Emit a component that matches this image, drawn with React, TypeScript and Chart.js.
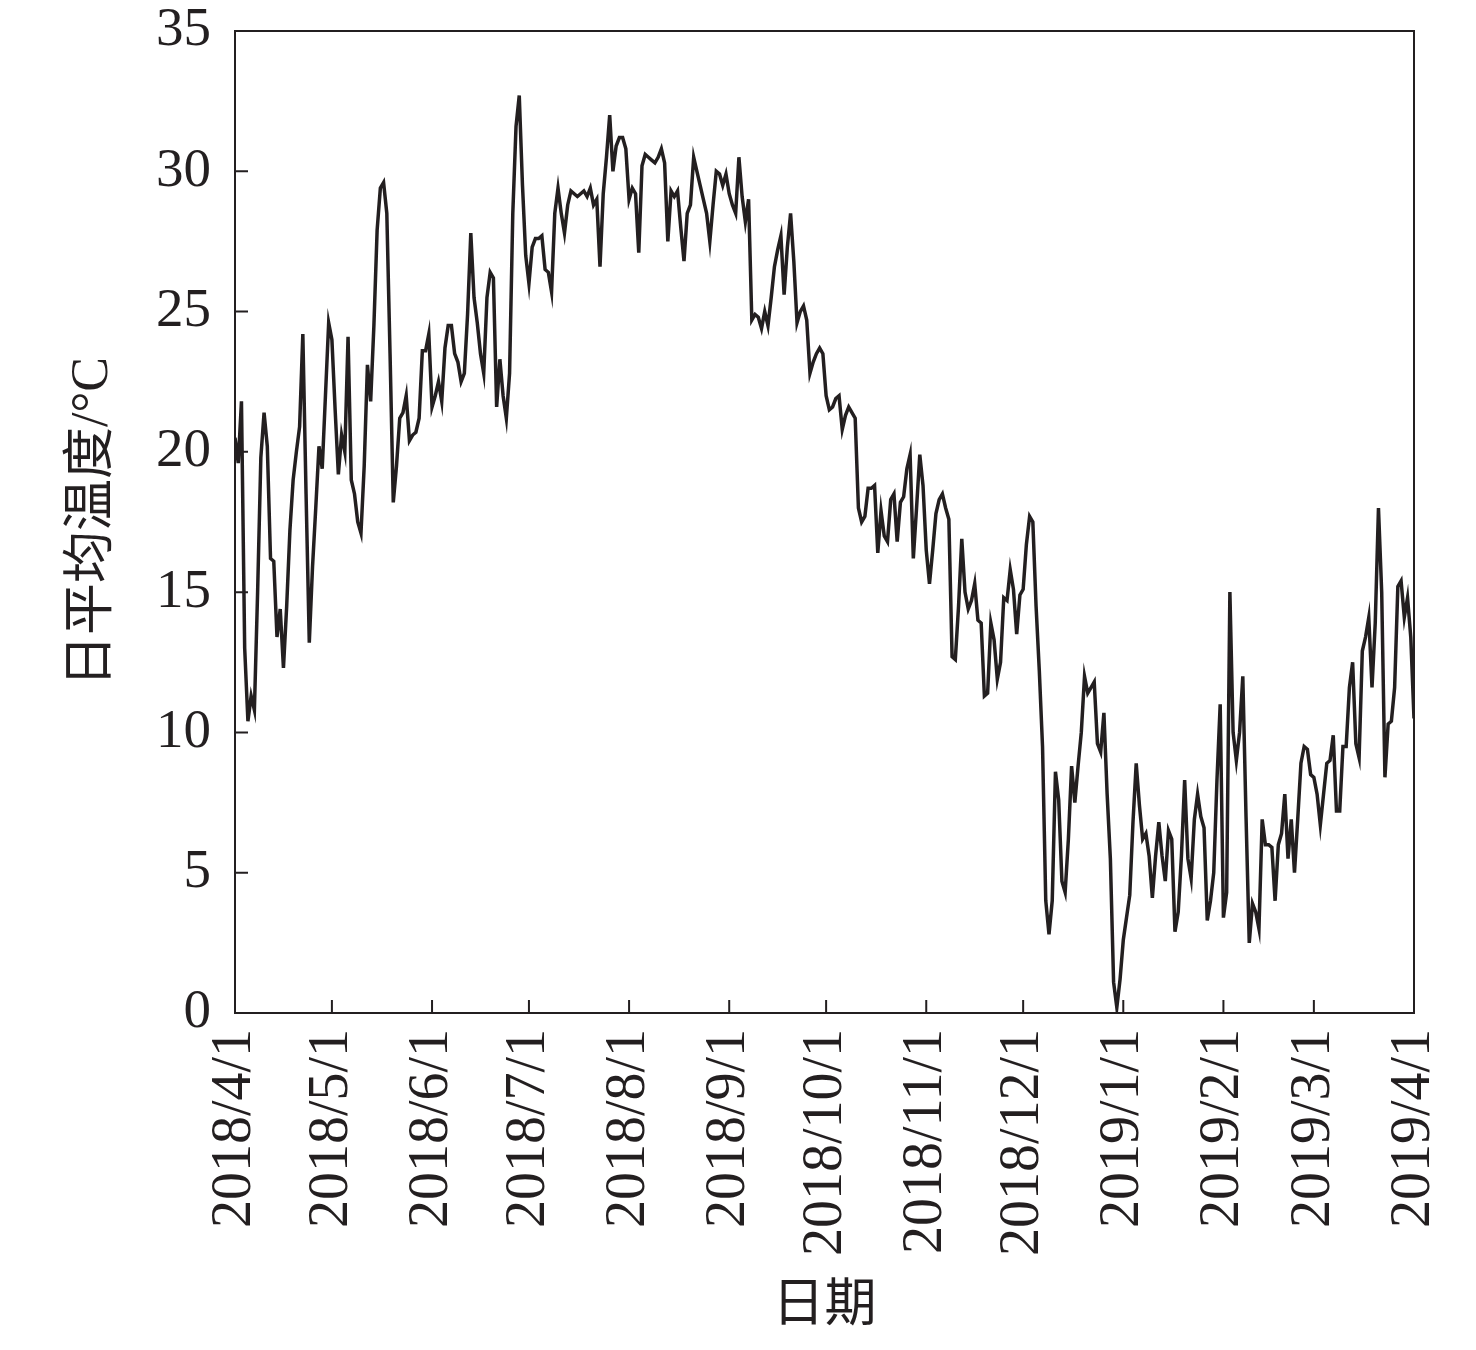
import { useRef, useEffect } from 'react'
import Chart from 'chart.js/auto'

// daily mean temperature, 2018/4/1 .. 2019/4/1 (one value per day)
const apr = [20.5, 19.6, 21.8, 13.0, 10.4, 11.3, 10.8, 15.0, 19.8, 21.4, 20.2, 16.2, 16.1, 13.4, 14.4, 12.3, 14.5, 17.2, 19.0, 20.0, 20.9, 24.2, 18.5, 13.2, 15.9, 18.0, 20.2, 19.4, 22.0, 24.6]
const may = [24.0, 21.5, 19.2, 20.6, 20.0, 24.1, 19.0, 18.5, 17.5, 17.1, 19.5, 23.1, 21.8, 24.5, 27.9, 29.4, 29.6, 28.5, 23.5, 18.2, 19.5, 21.2, 21.4, 22.0, 20.4, 20.6, 20.7, 21.2, 23.6, 23.6, 24.2]
const jun = [21.6, 22.0, 22.5, 21.8, 23.7, 24.5, 24.5, 23.5, 23.2, 22.5, 22.8, 24.9, 27.8, 25.5, 24.6, 23.5, 22.8, 25.5, 26.4, 26.2, 21.6, 23.3, 22.0, 21.2, 22.8, 28.5, 31.6, 32.7, 29.5, 27.0]
const jul = [26.0, 27.3, 27.6, 27.6, 27.7, 26.5, 26.4, 25.7, 28.5, 29.4, 28.5, 27.8, 28.8, 29.3, 29.2, 29.1, 29.2, 29.3, 29.1, 29.4, 28.8, 29.0, 26.6, 29.2, 30.5, 32.0, 30.0, 30.9, 31.2, 31.2, 30.8]
const aug = [29.0, 29.4, 29.2, 27.1, 30.2, 30.6, 30.5, 30.4, 30.3, 30.5, 30.8, 30.3, 27.5, 29.3, 29.1, 29.3, 28.0, 26.8, 28.5, 28.8, 30.5, 30.0, 29.5, 29.0, 28.5, 27.5, 28.8, 30.0, 29.9, 29.5, 29.9]
const sep = [29.2, 28.8, 28.5, 30.5, 29.1, 28.2, 29.0, 24.7, 24.9, 24.8, 24.4, 25.0, 24.5, 25.5, 26.6, 27.2, 27.7, 25.6, 27.3, 28.5, 26.8, 24.6, 25.0, 25.2, 24.7, 22.8, 23.2, 23.5, 23.7, 23.5]
const oct = [22.0, 21.5, 21.6, 21.9, 22.0, 20.8, 21.3, 21.6, 21.4, 21.2, 18.0, 17.5, 17.7, 18.7, 18.7, 18.8, 16.4, 17.9, 17.0, 16.8, 18.3, 18.5, 16.8, 18.2, 18.4, 19.4, 19.9, 16.2, 18.0, 19.9, 18.8]
const nov = [16.5, 15.3, 16.5, 17.8, 18.3, 18.5, 18.0, 17.6, 12.7, 12.6, 14.5, 16.9, 15.0, 14.4, 14.7, 15.3, 14.0, 13.9, 11.3, 11.4, 13.9, 13.3, 11.9, 12.5, 14.8, 14.7, 15.8, 15.1, 13.5, 14.9]
const dec = [15.1, 16.7, 17.7, 17.5, 14.5, 12.2, 9.5, 4.0, 2.8, 4.0, 8.6, 7.6, 4.7, 4.3, 6.2, 8.8, 7.5, 8.8, 10.0, 12.0, 11.4, 11.6, 11.8, 9.6, 9.3, 10.7, 7.8, 5.5, 1.1, 0.2, 1.2]
const jan = [2.6, 3.4, 4.2, 6.8, 8.9, 7.4, 6.2, 6.4, 5.6, 4.1, 5.6, 6.8, 5.6, 4.7, 6.5, 6.2, 2.9, 3.6, 5.6, 8.3, 5.5, 4.8, 6.9, 7.8, 7.0, 6.6, 3.3, 4.0, 5.0, 8.3, 11.0]
const feb = [3.4, 4.3, 15.0, 10.0, 9.0, 10.0, 12.0, 7.0, 2.5, 3.9, 3.6, 3.0, 6.9, 6.0, 6.0, 5.9, 4.0, 6.0, 6.4, 7.8, 5.5, 6.9, 5.0, 6.9, 8.9, 9.5, 9.4, 8.5]
const mar = [8.4, 7.8, 6.7, 7.8, 8.9, 9.0, 9.9, 7.2, 7.2, 9.5, 9.5, 11.6, 12.5, 9.6, 9.1, 12.9, 13.4, 14.1, 11.6, 13.9, 18.0, 15.0, 8.4, 10.3, 10.4, 11.6, 15.2, 15.4, 14.1, 14.8, 13.4]
const apr1 = [10.5]

const temps = [...apr, ...may, ...jun, ...jul, ...aug, ...sep, ...oct, ...nov, ...dec, ...jan, ...feb, ...mar, ...apr1]

// day offsets of the month starts and their labels
const monthDays = [0, 30, 61, 91, 122, 153, 183, 214, 244, 275, 306, 334, 365]
const monthLabels = [
  '2018/4/1', '2018/5/1', '2018/6/1', '2018/7/1', '2018/8/1', '2018/9/1', '2018/10/1',
  '2018/11/1', '2018/12/1', '2019/1/1', '2019/2/1', '2019/3/1', '2019/4/1',
]
const yTicks = [0, 5, 10, 15, 20, 25, 30, 35]

const INK = '#231f20'
const SERIF = '"Liberation Serif", "Times New Roman", "Noto Sans CJK SC", serif'

// box round the plot and inward tick marks
const framePlugin = {
  id: 'frame',
  afterDatasetsDraw(chart: any) {
    const { ctx, chartArea: a, scales } = chart
    ctx.save()
    ctx.strokeStyle = INK
    ctx.lineWidth = 2
    ctx.strokeRect(a.left, a.top, a.right - a.left, a.bottom - a.top)
    ctx.beginPath()
    scales.x.ticks.forEach((t: any) => {
      const px = scales.x.getPixelForValue(t.value)
      ctx.moveTo(px, a.bottom)
      ctx.lineTo(px, a.bottom - 13)
    })
    scales.y.ticks.forEach((t: any) => {
      const py = scales.y.getPixelForValue(t.value)
      ctx.moveTo(a.left, py)
      ctx.lineTo(a.left + 13, py)
    })
    ctx.stroke()
    ctx.restore()
  },
}

export default function App() {
  const canvasRef = useRef<HTMLCanvasElement>(null)
  const chartRef = useRef<Chart | null>(null)

  useEffect(() => {
    if (!canvasRef.current) return
    chartRef.current?.destroy()

    chartRef.current = new Chart(canvasRef.current, {
      type: 'line',
      data: {
        datasets: [{
          data: temps.map((v, i) => ({ x: i, y: v })),
          borderColor: INK,
          borderWidth: 3.5,
          pointRadius: 0,
          tension: 0,
        }],
      },
      options: {
        responsive: true,
        maintainAspectRatio: false,
        animation: false,
        layout: { padding: { top: 31, right: 62, left: 0, bottom: 0 } },
        plugins: {
          legend: { display: false },
          tooltip: { enabled: false },
        },
        scales: {
          x: {
            type: 'linear',
            min: 0,
            max: 365,
            grid: { display: false, drawTicks: false },
            border: { display: false },
            afterBuildTicks: (s: any) => { s.ticks = monthDays.map((v) => ({ value: v })) },
            afterFit: (s: any) => { s.height = 337; s.paddingLeft = 0; s.paddingRight = 0 },
            ticks: {
              autoSkip: false,
              maxRotation: 90,
              minRotation: 90,
              padding: 16,
              color: INK,
              font: { family: SERIF, size: 56 },
              callback: (_v: any, i: number) => monthLabels[i],
            },
            title: {
              display: true,
              text: '日期',
              color: INK,
              font: { family: SERIF, size: 52 },
              padding: { top: 0, bottom: 11 },
            },
          },
          y: {
            min: 0,
            max: 35,
            grid: { display: false, drawTicks: false },
            border: { display: false },
            afterBuildTicks: (s: any) => { s.ticks = yTicks.map((v) => ({ value: v })) },
            afterFit: (s: any) => { s.width = 235; s.paddingTop = 0; s.paddingBottom = 0 },
            ticks: {
              padding: 24,
              color: INK,
              font: { family: SERIF, size: 55 },
            },
            title: {
              display: true,
              text: '日平均温度/°C',
              color: INK,
              font: { family: SERIF, size: 52 },
              padding: { top: 62, bottom: 0 },
            },
          },
        },
      },
      plugins: [framePlugin],
    })

    return () => { chartRef.current?.destroy(); chartRef.current = null }
  }, [])

  return (
    <div style={{ position: 'absolute', left: 0, top: 0, width: 1476, height: 1350, background: '#fff' }}>
      <canvas ref={canvasRef} />
    </div>
  )
}
